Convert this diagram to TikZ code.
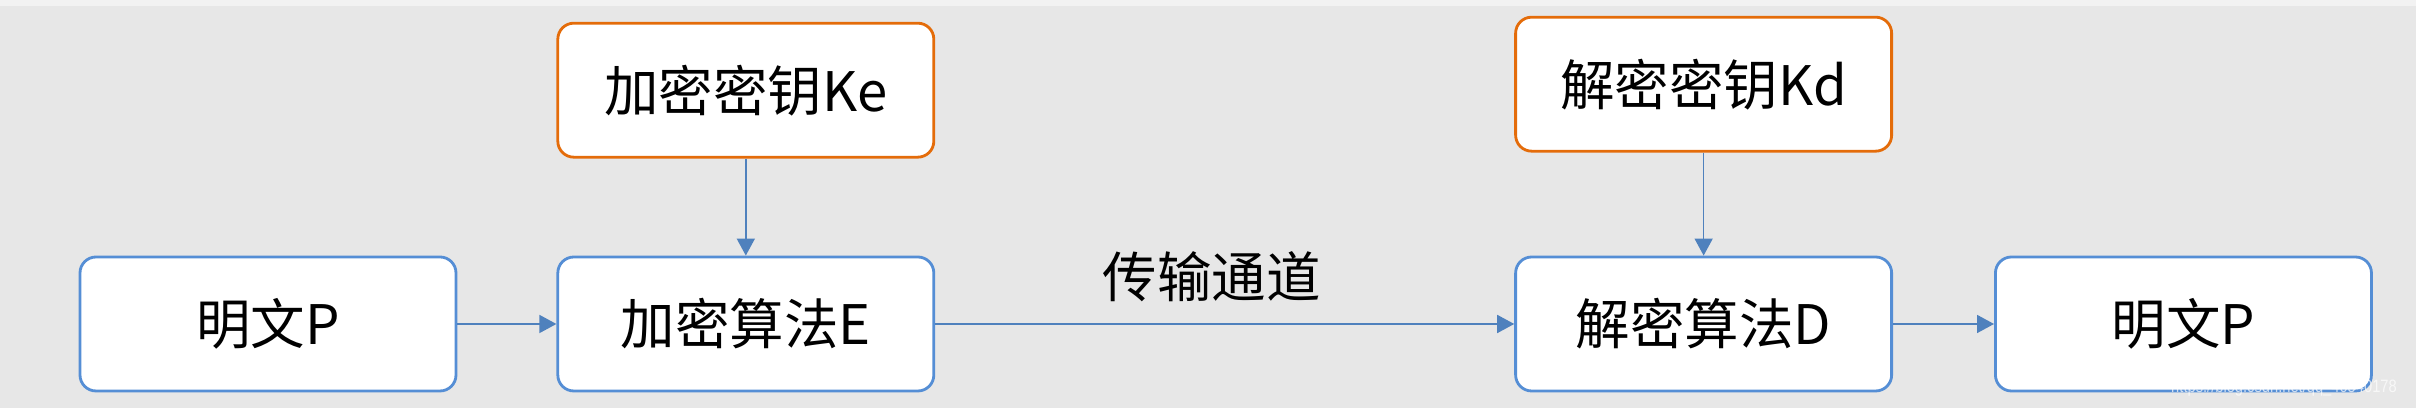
\documentclass[tikz,border=0pt]{standalone}
\usepackage{fontspec}
\setmainfont{Noto Sans CJK SC}
\newfontfamily\markfont{Liberation Sans}
\usetikzlibrary{positioning, arrows.meta}

\definecolor{boxblue}{HTML}{558ED5}
\definecolor{keyorange}{HTML}{E46C0A}
\definecolor{arrowblue}{HTML}{4F81BD}
\definecolor{bggray}{HTML}{E7E7E7}
\definecolor{topgray}{HTML}{F2F2F2}

\begin{document}
\begin{tikzpicture}[font=\fontsize{15.5}{18}\selectfont,
  box/.style={draw=boxblue, line width=0.8pt, fill=white, rounded corners=0.16cm,
    minimum width=3.76cm, minimum height=1.34cm, inner sep=0pt},
  keybox/.style={box, draw=keyorange},
  link/.style={draw=arrowblue, line width=0.45pt, -{Triangle[length=0.17cm, width=0.18cm]}}];

\fill[bggray] (0,0) rectangle (24.16,4.08);
\fill[topgray] (0,4.02) rectangle (24.16,4.08);
\useasboundingbox (0,0) rectangle (24.16,4.08);

\node[box] (plain1) at (2.68,0.84) {明文P};
\node[box, right=0.99cm of plain1] (enc) {加密算法E};
\node[keybox, above=0.97cm of enc] (ke) {加密密钥Ke};
\node[box, right=5.79cm of enc] (dec) {解密算法D};
\node[keybox, above=1.03cm of dec] (kd) {解密密钥Kd};
\node[box, right=1.01cm of dec] (plain2) {明文P};

\draw[link] (plain1) -- (enc);
\draw[link] (ke) -- (enc);
\draw[link] (enc) -- node[midway, yshift=0.47cm, xshift=-0.13cm] (channel) {传输通道} (dec);
\draw[link] (kd) -- (dec);
\draw[link] (dec) -- (plain2);

\node[text=white, opacity=0.7, font=\markfont\fontsize{5.1}{6}\selectfont, xscale=0.82, transform shape] (mark) at (22.84,0.2) {https://blog.csdn.net/qq\_40540178};
\end{tikzpicture}
\end{document}
